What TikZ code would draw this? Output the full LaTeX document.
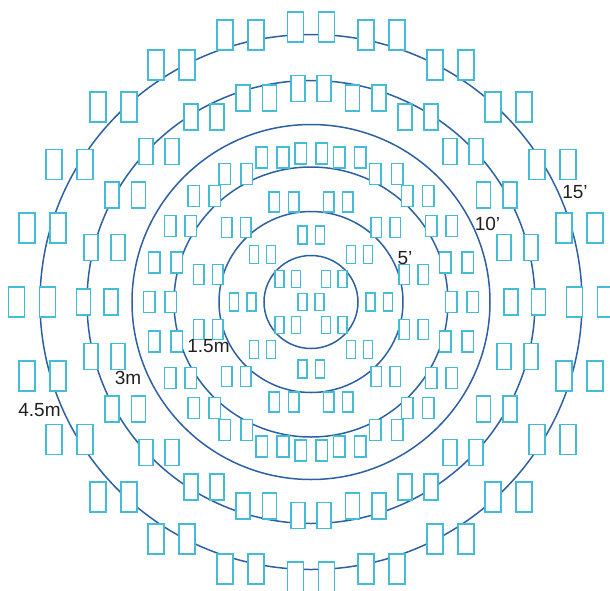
\documentclass[tikz,border=0pt]{standalone}
\usepackage{fontspec}
\setmainfont{Liberation Sans}
\definecolor{seatc}{HTML}{45BCD6}
\definecolor{ringc}{HTML}{2D5FA3}
\definecolor{labc}{HTML}{231F20}
\tikzset{
  seatbox/.style={draw=seatc, fill=white, line width=1.5pt},
  ringline/.style={draw=ringc, line width=1.5pt},
  dimlabel/.style={text=labc, inner sep=0pt, font=\fontsize{19}{22}\selectfont}
}
% #1 width, #2 height, #3 list of |dx| of seat centres, #4 |dy| of the row
\newcommand\seatset[4]{%
  \foreach \sx in {-1,1}{\foreach \sy in {-1,1}{\foreach \d in {#3}{%
    \draw[seatbox] ({\sx*\d-#1/2},{\sy*#4-#2/2}) rectangle ++(#1,#2);
  }}}}
\begin{document}
\begin{tikzpicture}[x=1pt,y=1pt]
\useasboundingbox (-311,-288) rectangle (299,302);
\clip (-311,-288) rectangle (299,302);
% rings
\foreach \rx/\ry in {47/46.5,92/90.5,137/135,179/177.5,224/221.5,271/267.5}
  \draw[ringline] (0,0) ellipse [x radius=\rx, y radius=\ry];
% outer ring seats (on 15')
\seatset{16}{30}{15.5}{275}
\seatset{16}{30}{55,86}{267}
\seatset{16}{30}{124,155}{237}
\seatset{16}{30}{182,213}{195}
\seatset{16}{30}{226,257}{137.5}
\seatset{16}{30}{253,284}{74}
\seatset{16}{30}{263.5,294.5}{0}
% ring on 12.5'
\seatset{14}{26}{13}{213.5}
\seatset{14}{26}{41.5,68}{204}
\seatset{14}{26}{94,120}{185}
\seatset{14}{26}{139,165}{150.5}
\seatset{14}{26}{172.5,199}{107}
\seatset{14}{26}{193,220}{54.5}
\seatset{14}{26}{200,227.5}{0}
% between 7.5' and 10'
\seatset{11.5}{21}{10.5}{148.5}
\seatset{11.5}{21}{28,49}{144.5}
\seatset{11.5}{21}{64,86}{128}
\seatset{11.5}{21}{96,117}{106}
\seatset{11.5}{21}{120,140.5}{76}
\seatset{11.5}{21}{134,156.5}{39.5}
\seatset{11.5}{21}{140,161.5}{0}
% between 5' and 7.5'
\seatset{10.5}{20}{17.5,36.5}{100}
\seatset{10.5}{20}{65,84}{74.5}
\seatset{10.5}{20}{93,112}{27.5}
% between 2.5' and 5'
\seatset{9}{18}{8.75}{67}
\seatset{9}{18}{40,57}{47.5}
\seatset{9}{18}{59.5,77}{0}
% centre
\seatset{9}{17}{8.5}{0}
\seatset{9}{17}{15,31.5}{23}
% labels
\node[dimlabel] (ft5)  at (94,44)      {5’};
\node[dimlabel] (ft10) at (176.5,78.5) {10’};
\node[dimlabel] (ft15) at (264,109.5)  {15’};
\node[dimlabel] (m15)  at (-102.5,-44) {1.5m};
\node[dimlabel] (m3)   at (-183,-76)   {3m};
\node[dimlabel] (m45)  at (-271.5,-108){4.5m};
\end{tikzpicture}
\end{document}
